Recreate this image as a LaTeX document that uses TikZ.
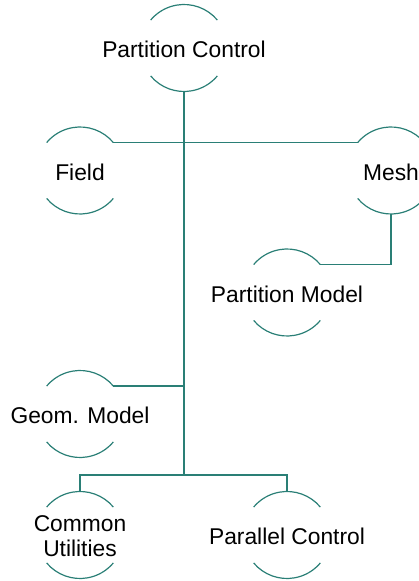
\documentclass[tikz,border=0pt]{standalone}
\usepackage{fontspec}
\setmainfont{Liberation Sans}
\definecolor{teal1}{HTML}{2A7F76}
\begin{document}
\begin{tikzpicture}[x=1pt,y=1pt,
  ring/.style={circle,minimum size=87pt,inner sep=0pt,outer sep=0pt},
  lbl/.style={font=\fontsize{22.8}{25}\selectfont,align=center,text=black,yshift=-1.5pt},
  conn/.style={draw=teal1,line width=1.2pt}]
\useasboundingbox (0,0) rectangle (418,581);
\node[ring] (pc) at (184,533) {};
\node[ring] (field) at (80,410.5) {};
\node[ring] (mesh) at (391,410.5) {};
\node[ring] (pm) at (287,288.5) {};
\node[ring] (geom) at (80,167) {};
\node[ring] (cu) at (80,46) {};
\node[ring] (par) at (287,46) {};
\node[lbl] (tpc) at (pc.center) {Partition Control};
\node[lbl] (tfield) at (field.center) {Field};
\node[lbl] (tmesh) at (mesh.center) {Mesh};
\node[lbl] (tpm) at (pm.center) {Partition Model};
\node[lbl] (tgeom) at (geom.center) {Geom. Model};
\node[lbl] (tcu) at (cu.center) {Common\\Utilities};
\node[lbl] (tpar) at (par.center) {Parallel Control};
\foreach \n in {pc,field,mesh,pm,geom,cu,par}{
  \draw[conn] (\n.40) arc (40:140:43.5);
  \draw[conn] (\n.220) arc (220:320:43.5);
}
\coordinate (j1) at (184,106);
\draw[conn] (pc.south) -- (j1);
\draw[conn] (field.40) -- (mesh.140);
\draw[conn] (mesh.south) |- (pm.40);
\draw[conn] (geom.40) -- (geom.40 -| pc.south);
\draw[conn] (cu.north) -- (cu.north |- j1) -- (par.north |- j1) -- (par.north);
\end{tikzpicture}
\end{document}
